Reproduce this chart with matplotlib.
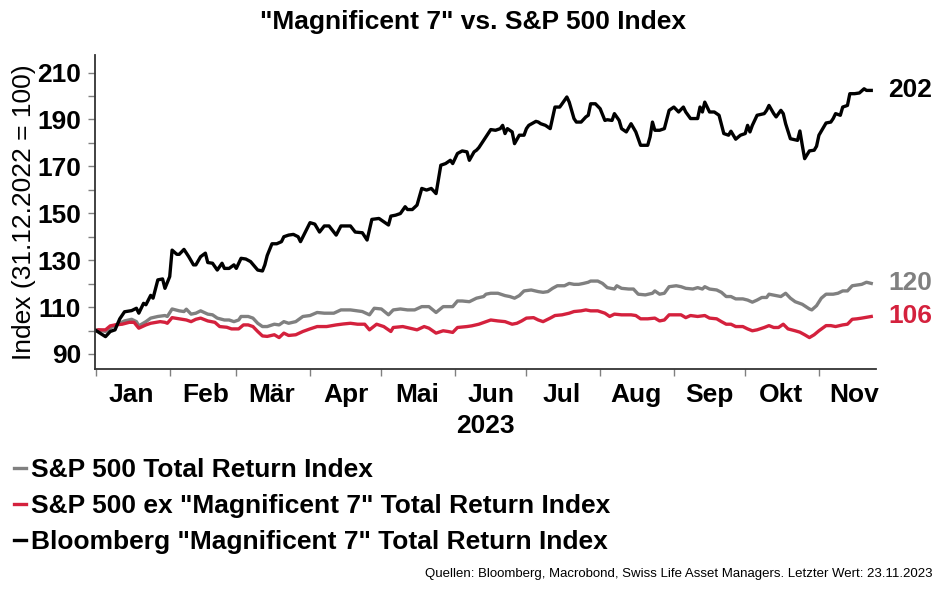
import numpy as np
import pandas as pd
import matplotlib
matplotlib.use("Agg")
import matplotlib.pyplot as plt
import matplotlib.dates as mdates
from matplotlib.ticker import NullFormatter

plt.rcParams['font.family'] = ['Liberation Sans', 'DejaVu Sans']

# ---------------------------------------------------------------------------
# Data (index, 31.12.2022 = 100): (day of 2023, value)
# ---------------------------------------------------------------------------

mag7 = [
    (0, 100), (4, 97.4), (6, 99.6), (8, 100.3), (10, 105), (12, 108), (15, 108.5),
    (17, 109.5), (18, 107.4), (20, 111.6), (21, 111), (23, 115), (24, 113.8),
    (26, 121.6), (28, 122), (29, 118), (31, 123), (32, 134.3), (34, 132.5),
    (35, 132.5), (37, 134.6), (39, 131.5), (41, 128), (42, 128), (44, 131.5),
    (46, 133), (47, 129), (49, 128.7), (51, 125.8), (53, 128.7), (54, 126.5),
    (56, 126.5), (58, 128), (59, 126.5), (61, 130.8), (63, 130.5), (65, 129.4),
    (68, 125.8), (70, 125.4), (71, 128), (72, 132), (74, 137), (76, 137),
    (78, 137.9), (79, 140), (81, 140.7), (83, 141), (85, 140), (86, 137.9),
    (88, 142), (90, 146), (92, 145.4), (94, 142), (96, 144.6), (98, 144.6),
    (101, 140.7), (103, 144.6), (107, 144.6), (109, 142), (112, 141.7),
    (114, 138.6), (116, 147.4), (119, 147.8), (121, 146.4), (123, 145),
    (124, 148.8), (126, 149.2), (128, 149.9), (130, 152.8), (131, 151.6),
    (133, 151.6), (135, 153.5), (137, 160.6), (139, 159.9), (141, 160.6),
    (143, 158.4), (145, 170.5), (147, 171.2), (149, 172.6), (150, 171.2),
    (152, 175.5), (154, 176.6), (156, 176.2), (157, 172.6), (159, 176.2),
    (160, 176.9), (161, 178), (163, 181.1), (166, 185.7), (168, 185.4),
    (170, 186.1), (171, 187.5), (172, 184), (173, 186.1), (175, 184.7),
    (176, 179.7), (178, 183.3), (180, 183.3), (181, 186.1), (182, 187.5),
    (185, 189.2), (186, 188.9), (187, 188.2), (189, 187.5), (191, 186.1),
    (193, 195.3), (195, 195.3), (196, 196.7), (198, 199.6), (199, 197.4),
    (201, 190.4), (202, 188.9), (204, 188.9), (206, 191.1), (207, 191.8),
    (208, 196.7), (210, 196.7), (212, 194.6), (214, 189.6), (215, 189.9),
    (217, 189.6), (218, 192.5), (220, 189.6), (221, 186.1), (223, 184.7),
    (225, 188.2), (227, 184.7), (228, 181.8), (229, 179), (232, 179),
    (233, 182.6), (234, 188.9), (235, 185.4), (237, 185.4), (239, 186.1),
    (241, 193.9), (243, 195.3), (245, 193.2), (247, 195.3), (248, 193.2),
    (250, 190.4), (253, 190.4), (254, 195.3), (255, 193.2), (256, 197.4),
    (258, 193.2), (260, 193.2), (262, 191.8), (264, 184), (266, 183.3),
    (267, 185), (269, 181.6), (271, 183.3), (273, 184), (274, 187.5),
    (275, 184.7), (276, 187.5), (278, 191.8), (281, 192.5), (282, 193.9),
    (283, 196), (285, 192.5), (286, 191.1), (288, 193.9), (289, 192.5),
    (290, 188.2), (292, 181.8), (295, 181.1), (296, 185.1), (297, 179),
    (298, 173.3), (300, 176.6), (302, 176.9), (303, 178.6), (304, 183.3),
    (307, 188.5), (309, 188.9), (310, 190.4), (311, 192.5), (313, 191.8),
    (314, 195.3), (316, 196), (317, 201), (319, 201), (321, 201.3),
    (323, 203.1), (324, 202.4), (326, 202.4),
]

sp500 = [
    (0, 100), (1, 100.3), (4, 99.6), (7, 101.7), (9, 102.7), (12, 104.1),
    (15, 104.8), (17, 103.8), (18, 102), (21, 103.8), (23, 105.3), (26, 106),
    (29, 106.4), (30, 106), (32, 109.2), (35, 108.4), (37, 108.1), (38, 109.1),
    (40, 107), (42, 107.4), (44, 108.4), (47, 107), (49, 106.7), (51, 105.3),
    (54, 104.5), (56, 104.5), (58, 103.8), (60, 104.5), (61, 106), (64, 106),
    (66, 105.3), (68, 103.1), (70, 101.7), (72, 101.7), (75, 102.7), (77, 102.4),
    (79, 103.8), (81, 103.1), (84, 103.8), (87, 106), (90, 106.4), (93, 107.7),
    (96, 107.4), (100, 107.4), (103, 108.8), (107, 108.8), (110, 108.4),
    (112, 108.1), (115, 106.7), (117, 109.5), (120, 109.2), (123, 106.7),
    (125, 108.8), (128, 109.2), (131, 108.8), (134, 108.8), (137, 110.2),
    (140, 110.2), (143, 107.7), (146, 110.2), (150, 110.2), (152, 112.6),
    (154, 112.6), (157, 112.3), (160, 113.8), (163, 114.5), (164, 115.5),
    (166, 115.9), (169, 115.9), (172, 114.9), (174, 114.5), (176, 113.8),
    (178, 114.9), (180, 116.9), (183, 117.3), (186, 116.6), (188, 116.3),
    (190, 116.6), (192, 118), (194, 119.1), (197, 119.1), (199, 120.1),
    (201, 119.7), (203, 119.7), (205, 120.1), (207, 120.6), (208, 121.1),
    (211, 121.1), (213, 120.1), (215, 118.3), (218, 117.7), (219, 119.1),
    (221, 118), (224, 117.7), (226, 117.7), (228, 115.5), (231, 115.2),
    (234, 115.9), (235, 116.9), (237, 115.5), (239, 115.9), (241, 118.7),
    (244, 119.1), (246, 118.7), (248, 118), (251, 117.7), (253, 118.3),
    (255, 117.7), (256, 118.7), (258, 117.7), (261, 117.3), (263, 116.3),
    (265, 114.5), (267, 114.5), (269, 113.5), (272, 113.5), (274, 113),
    (276, 112.1), (278, 113), (280, 114.1), (282, 114.1), (283, 115.5),
    (286, 114.9), (288, 114.5), (290, 115.9), (292, 113.8), (294, 112.3),
    (296, 111.6), (297, 111.2), (300, 109.2), (301, 108.8), (303, 110.6),
    (305, 113.8), (307, 115.5), (310, 115.5), (312, 115.9), (314, 116.9),
    (316, 116.9), (318, 119.1), (320, 119.4), (322, 119.7), (324, 120.6),
    (326, 120.1),
]

sp500_ex7 = [
    (0, 100), (1, 100.3), (4, 100.3), (6, 102), (8, 102.4), (11, 102.7),
    (14, 103.5), (16, 103.5), (18, 101), (21, 102.4), (23, 103.1), (27, 103.8),
    (29, 103.5), (30, 103.1), (32, 105.5), (35, 105), (38, 104.5), (40, 103.8),
    (42, 104.8), (44, 105.3), (47, 104.1), (50, 103.5), (52, 101.7), (55, 101.4),
    (57, 100.7), (60, 100.7), (62, 102.4), (64, 102.4), (66, 101.7), (68, 99.6),
    (70, 97.7), (72, 97.5), (75, 98.2), (77, 97), (79, 98.9), (81, 97.9),
    (84, 98.2), (87, 99.6), (90, 100.7), (93, 101.7), (97, 101.7), (101, 102.4),
    (104, 102.8), (107, 103.1), (110, 102.7), (113, 102.7), (115, 100.3),
    (118, 102.7), (121, 101.7), (124, 99.6), (125, 101.3), (129, 101.7),
    (132, 101), (135, 100.3), (138, 101.7), (140, 101), (143, 98.9), (146, 99.9),
    (148, 99.6), (150, 99.2), (152, 101.3), (156, 101.7), (158, 102),
    (161, 102.7), (164, 103.8), (166, 104.5), (169, 104.1), (172, 103.8),
    (175, 102.7), (177, 103.1), (179, 104.1), (181, 105.3), (184, 105.5),
    (186, 104.5), (188, 103.8), (191, 105.3), (193, 106.4), (196, 106.7),
    (199, 107.4), (201, 108.1), (204, 108.4), (206, 108.8), (208, 108.4),
    (211, 108.4), (214, 107.4), (216, 106), (218, 107), (221, 106.7),
    (225, 106.7), (227, 106.4), (229, 105), (232, 105), (235, 105.3),
    (237, 104.1), (239, 104.5), (241, 106.7), (244, 106.7), (246, 106.7),
    (248, 105.5), (250, 106.4), (253, 106), (256, 106.4), (258, 105.3),
    (261, 105), (263, 103.8), (265, 102.7), (267, 102.7), (269, 101.7),
    (272, 101.7), (274, 100.7), (276, 99.9), (278, 100.3), (281, 101.3),
    (283, 102.1), (285, 101.3), (287, 101.3), (289, 102.7), (291, 100.7),
    (294, 99.9), (296, 99.3), (298, 98.2), (300, 97), (302, 98.2), (304, 99.9),
    (307, 102.1), (309, 102.1), (311, 101.7), (314, 102.4), (316, 102.7),
    (318, 104.8), (320, 105), (322, 105.3), (326, 106),
]

month_labels = ["Jan", "Feb", "Mär", "Apr", "Mai", "Jun",
                "Jul", "Aug", "Sep", "Okt", "Nov"]
ytick_labelled = [90, 110, 130, 150, 170, 190, 210]
ytick_minor = [100, 120, 140, 160, 180, 200]
series_labels = ['S&P 500 Total Return Index',
                 'S&P 500 ex "Magnificent 7" Total Return Index',
                 'Bloomberg "Magnificent 7" Total Return Index']
year_label = "2023"
title = '"Magnificent 7" vs. S&P 500 Index'
ylabel = "Index (31.12.2022 = 100)"
source = ("Quellen: Bloomberg, Macrobond, Swiss Life Asset Managers. "
          "Letzter Wert: 23.11.2023")

GRAY = "#808080"
RED = "#d4213d"
BLACK = "#000000"
FS = 19

base = pd.Timestamp("2023-01-01")


def to_xy(pairs):
    days, vals = zip(*pairs)
    dates = base + pd.to_timedelta(np.array(days), unit="D")
    return dates, np.array(vals)


# ---------------------------------------------------------------------------
# Figure
# ---------------------------------------------------------------------------

fig = plt.figure(figsize=(9.45, 5.91), dpi=100)
ax = fig.add_axes([95 / 945, 1 - 369 / 591, (876 - 95) / 945, (369 - 55) / 591])

handles = []
for pairs, color in [(sp500, GRAY), (sp500_ex7, RED), (mag7, BLACK)]:
    x, y = to_xy(pairs)
    line, = ax.plot(x, y, color=color, lw=2.4, solid_joinstyle="round")
    handles.append(line)
    ax.annotate(f"{y[-1]:.0f}", xy=(x[-1], y[-1]), xytext=(12, 0),
                textcoords="offset points", va="center", ha="left",
                fontsize=FS, fontweight="bold", color=color)

ax.set_xlim(base - pd.Timedelta(hours=10), base + pd.Timedelta(days=328))
ax.set_ylim(83.6, 217.5)

# y axis: labels every 20 starting at 90, unlabelled ticks in between
ax.set_yticks(ytick_labelled)
ax.set_yticks(ytick_minor, minor=True)
ax.set_yticklabels([str(v) for v in ytick_labelled], fontsize=FS,
                   fontweight="bold")
ax.tick_params(axis="y", which="both", length=5, width=1, color=GRAY, pad=5)

# x axis: ticks at month start, labels mid-month
ax.xaxis.set_major_locator(mdates.MonthLocator())
ax.xaxis.set_major_formatter(NullFormatter())
mid = [base + pd.DateOffset(months=i) + pd.Timedelta(days=15)
       for i in range(len(month_labels))]
ax.set_xticks(mid, minor=True)
ax.set_xticklabels(month_labels, minor=True, fontsize=FS, fontweight="bold")
ax.tick_params(axis="x", which="major", length=5, width=1, color=GRAY)
ax.tick_params(axis="x", which="minor", length=0, pad=10)

ax.set_ylabel(ylabel, fontsize=FS, labelpad=1)

for side in ["top", "right"]:
    ax.spines[side].set_visible(False)
for side in ["left", "bottom"]:
    ax.spines[side].set_color("#333333")
    ax.spines[side].set_linewidth(1.3)

fig.text(473 / 945, 1 - 22 / 591, title, ha="center", va="center",
         fontsize=FS, fontweight="bold")
fig.text(485 / 945, 1 - 426 / 591, year_label, ha="center", va="center",
         fontsize=FS, fontweight="bold")

leg = fig.legend(handles, series_labels, loc="upper left",
                 bbox_to_anchor=(14 / 945, 1 - 458 / 591), frameon=False,
                 handlelength=0.45, handletextpad=0.2, labelspacing=0.45,
                 borderpad=0, borderaxespad=0,
                 prop={"size": FS, "weight": "bold"})

fig.text(933 / 945, 1 - 574 / 591, source, ha="right", va="center",
         fontsize=9.5)

fig.savefig("out.png", dpi=100)
